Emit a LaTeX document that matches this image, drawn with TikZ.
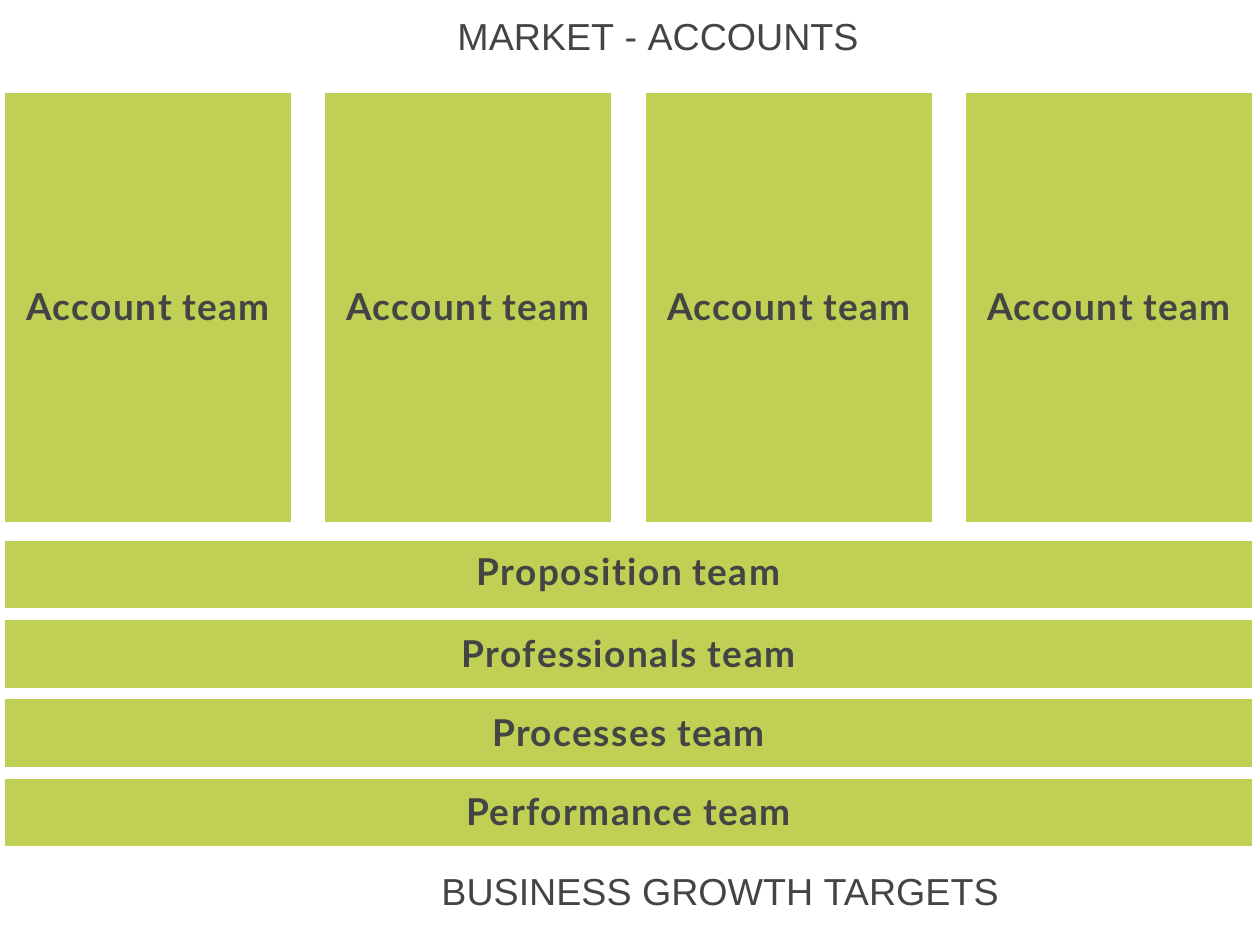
\documentclass[tikz,border=0pt]{standalone}
\usepackage{fontspec}
\setmainfont{Liberation Sans}
\newfontfamily\teamfont[LetterSpace=4,Ligatures=NoCommon]{Lato}
\usetikzlibrary{positioning}
\definecolor{teamgreen}{HTML}{BFD055}
\definecolor{textgrey}{HTML}{444444}
\tikzset{
  teambox/.style={fill=teamgreen, draw=none, inner sep=0pt, text=textgrey,
    font=\teamfont\bfseries\fontsize{18.5}{21}\selectfont},
  caption/.style={text=textgrey, font=\fontsize{18.8}{22}\selectfont, inner sep=0pt}
}
\begin{document}
\begin{tikzpicture}[x=0.5pt, y=-0.5pt]
    \useasboundingbox (0,0) rectangle (1254,937);
    \node[caption] (market) at (658,38) {MARKET - ACCOUNTS};
    % account columns
    \foreach \x [count=\i] in {148,468,789,1109}{
      \node[teambox, minimum width=143pt, minimum height=214.5pt] (acc\i) at (\x,307.5) {Account team};
    }
    % horizontal teams
    \node[teambox, minimum width=623.5pt, minimum height=33.5pt] (prop) at (628.5,574.5) {Proposition team};
    \node[teambox, minimum width=623.5pt, minimum height=34pt] (prof) at (628.5,654) {Professionals team};
    \node[teambox, minimum width=623.5pt, minimum height=34pt] (proc) at (628.5,733) {Processes team};
    \node[teambox, minimum width=623.5pt, minimum height=33.5pt] (perf) at (628.5,812.5) {Performance team};
    \node[caption] (growth) at (720,893) {BUSINESS GROWTH TARGETS};
\end{tikzpicture}
\end{document}
